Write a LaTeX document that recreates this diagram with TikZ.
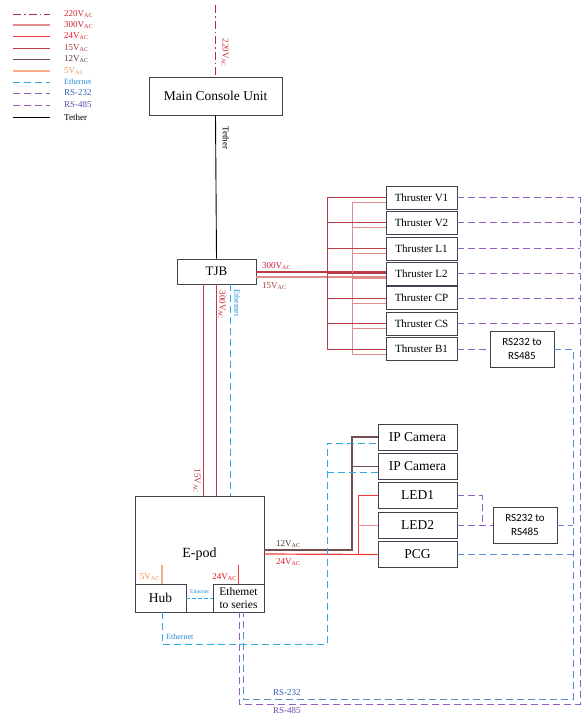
\documentclass[tikz,border=0pt]{standalone}
\usepackage{fontspec}
\setmainfont{Liberation Serif}
\newfontfamily\convfont{Carlito}
\usetikzlibrary{calc}
\definecolor{c220}{RGB}{170,50,65}
\definecolor{t220}{RGB}{200,40,55}
\definecolor{c300}{RGB}{222,140,140}
\definecolor{t300}{RGB}{200,30,55}
\definecolor{c24}{RGB}{240,60,60}
\definecolor{t24}{RGB}{230,25,35}
\definecolor{c15}{RGB}{185,60,70}
\definecolor{t15}{RGB}{170,55,55}
\definecolor{c12}{RGB}{115,80,80}
\definecolor{t12}{RGB}{80,55,55}
\definecolor{c5}{RGB}{245,175,140}
\definecolor{t5}{RGB}{240,145,90}
\definecolor{ceth}{RGB}{45,170,230}
\definecolor{teth}{RGB}{30,140,215}
\definecolor{c232}{RGB}{90,140,205}
\definecolor{t232}{RGB}{50,95,175}
\definecolor{c485}{RGB}{145,95,195}
\definecolor{t485}{RGB}{105,70,165}
\definecolor{boxc}{RGB}{65,65,80}
\newcommand\myvac{V\textsubscript{AC}}
\tikzset{
  box/.style={draw=boxc, line width=0.9pt, fill=white, inner sep=0pt, align=center, font=\fontsize{13.5}{15}\selectfont},
  thr/.style={box, minimum width=71pt, minimum height=23pt, font=\fontsize{11}{13}\selectfont},
  dev/.style={box, minimum width=79pt, minimum height=26pt},
  conv/.style={box, minimum width=64pt, minimum height=36pt, font=\convfont\fontsize{11}{13.5}\selectfont},
  lbl/.style={inner sep=0pt, font=\fontsize{9}{10}\selectfont},
  small/.style={inner sep=0pt, font=\fontsize{5.5}{6}\selectfont},
  dsh/.style={dash pattern=on 7pt off 4pt},
  w220/.style={c220, line width=0.9pt, dash pattern=on 8pt off 3pt on 1.5pt off 3pt},
  w300/.style={c300, line width=0.9pt},
  w24/.style={c24, line width=0.9pt},
  w15/.style={c15, line width=0.9pt},
  w12/.style={c12, line width=0.9pt},
  w5/.style={c5, line width=1.1pt},
  weth/.style={ceth, line width=1pt, dsh},
  w232/.style={c232, line width=1pt, dsh},
  w485/.style={c485, line width=1pt, dsh},
  wteth/.style={black, line width=0.9pt},
}
\begin{document}
\begin{tikzpicture}[x=1pt,y=-1pt]
\useasboundingbox (0,0) rectangle (588,720);

% ---------- legend ----------
\draw[w220] (13,14) -- (50,14);
\node[lbl, anchor=west, text=t220] (lg1) at (64,14) {220\myvac};
\draw[w300,line width=1.4pt] (13,25) -- (50,25);
\node[lbl, anchor=west, text=t300] (lg2) at (64,25) {300\myvac};
\draw[w24] (13,36) -- (50,36);
\node[lbl, anchor=west, text=t24] (lg3) at (64,36) {24\myvac};
\draw[w15] (13,48) -- (50,48);
\node[lbl, anchor=west, text=t15] (lg4) at (64,48) {15\myvac};
\draw[w12] (13,59) -- (50,59);
\node[lbl, anchor=west, text=t12] (lg5) at (64,59) {12\myvac};
\draw[w5] (13,71) -- (50,71);
\node[lbl, anchor=west, text=t5] (lg6) at (64,71) {5\myvac};
\draw[weth] (13,82) -- (50,82);
\node[lbl, anchor=west, text=teth, font=\fontsize{8}{9}\selectfont] (lg7) at (64,82) {Ethernet};
\draw[w485] (13,93) -- (50,93);
\node[lbl, anchor=west, text=t232] (lg8) at (64,93) {RS-232};
\draw[w485] (13,105) -- (50,105);
\node[lbl, anchor=west, text=t485] (lg9) at (64,105) {RS-485};
\draw[wteth] (13,117) -- (50,117);
\node[lbl, anchor=west] (lg10) at (64,117) {Tether};

% ---------- boxes ----------
\node[box, minimum width=133pt, minimum height=38pt] (mcu) at (215.5,96) {Main Console Unit};
\node[box, minimum width=79pt, minimum height=25pt, font=\fontsize{13}{15}\selectfont] (tjb) at (216.5,271.5) {TJB};

\foreach \n/\t/\y in {v1/V1/197.5, v2/V2/222.5, l1/L1/248.5, l2/L2/273.5, cp/CP/298, cs/CS/323.5, b1/B1/349}
  \node[thr] (\n) at (421.5,\y) {Thruster \t};

\node[conv] (cv1) at (522,349) {RS232 to\\RS485};

\node[dev] (cam1) at (417.5,437) {IP Camera};
\node[dev] (cam2) at (417.5,466) {IP Camera};
\node[dev] (led1) at (417.5,495.5) {LED1};
\node[dev] (led2) at (417.5,525) {LED2};
\node[dev] (pcg) at (417.5,554.5) {PCG};
\node[conv] (cv2) at (525,525) {RS232 to\\RS485};

\node[box, minimum width=129pt, minimum height=116pt, font=\fontsize{14}{16}\selectfont] (epod) at (199.5,554) {E-pod};
\node[box, minimum width=51pt, minimum height=28pt] (hub) at (160.5,598) {Hub};
\node[box, minimum width=51pt, minimum height=28pt, font=\fontsize{11.5}{12.5}\selectfont] (ets) at (238.5,598) {Ethemet\\to series};

% ---------- coordinates ----------
\coordinate (top) at (215.5,5);
\coordinate (bx1) at (327,0);
\coordinate (bx2) at (352,0);
\coordinate (ty1) at (0,272);
\coordinate (ty2) at (0,277);
\coordinate (vx15) at (203,0);
\coordinate (vx300) at (216,0);
\coordinate (vxeth) at (230,0);
\coordinate (y12) at (0,550);
\coordinate (y24) at (0,554);
\coordinate (x12) at (352,0);
\coordinate (x24) at (358,0);
\coordinate (xce) at (327,0);
\coordinate (ethy) at (0,644);
\coordinate (x232) at (573,0);
\coordinate (x485) at (580,0);
\coordinate (y232) at (0,699);
\coordinate (y485) at (0,704);
\coordinate (xled) at (482,0);

% ---------- top ----------
\draw[w220] (top) -- (mcu.north);
\node[lbl, rotate=-90, text=t220] (l220) at (225,53) {220\myvac};
\draw[wteth] (mcu.south) -- (tjb.north);
\node[lbl, rotate=-90] (lteth) at (226,138) {Tether};

% ---------- TJB to thrusters ----------
\draw[w15, line width=1.3pt] (tjb.east |- ty1) -- (l2.west |- ty1);
\draw[w300, line width=1.6pt] (tjb.east |- ty2) -- (l2.west |- ty2);
\node[lbl, anchor=south west, text=t300] (l300a) at (262,270) {300\myvac};
\node[lbl, anchor=north west, text=t15] (l15a) at (262,282) {15\myvac};
\draw[w15] (v1.west -| bx1) -- (b1.west -| bx1);
\draw[w300] ($(v1.west -| bx2)+(0,5)$) -- ($(b1.west -| bx2)+(0,5)$);
\foreach \n in {v1,v2,l1,l2,cp,cs,b1} {
  \draw[w15] (\n.west -| bx1) -- (\n.west);
  \draw[w300] ($(\n.west -| bx2)+(0,5)$) -- ($(\n.west)+(0,5)$);
}

% ---------- thrusters to RS-485 ----------
\draw[w485] (v1.east) -- (v1.east -| x485) -- (x485 |- y485) -- (y485 -| 239,0) -- (ets.south -| 239,0);
\foreach \n in {v2,l1,l2,cp,cs}
  \draw[w485] (\n.east) -- (\n.east -| x485);
\draw[w485] (b1.east) -- (cv1.west);

% ---------- RS-232 ----------
\draw[w232] (cv1.east) -- (cv1.east -| x232) -- (x232 |- y232) -- (y232 -| 243,0) -- (ets.south -| 243,0);
\draw[w232] (cv2.east) -- (cv2.east -| x232);
\draw[w232] (pcg.east) -- (pcg.east -| x232);
\draw[w485] (led1.east) -- (led1.east -| xled) -- (xled |- led2.east);
\draw[w485] (led2.east) -- (cv2.west);
\node[lbl, anchor=west, text=t232] (l232) at (273,693) {RS-232};
\node[lbl, anchor=west, text=t485] (l485) at (273,711) {RS-485};

% ---------- TJB to E-pod ----------
\draw[w15] (tjb.south -| vx15) -- (epod.north -| vx15);
\draw[w15] (tjb.south -| vx300) -- (epod.north -| vx300);
\draw[weth] (tjb.south -| vxeth) -- (epod.north -| vxeth);
\node[lbl, rotate=-90, text=t300] (l300b) at (222,305) {300\myvac};
\node[lbl, rotate=-90, text=teth, font=\fontsize{8}{9}\selectfont] (lethb) at (237,303) {Ethernet};
\node[lbl, rotate=-90, text=t15] (l15b) at (197,481) {15\myvac};

% ---------- E-pod internals ----------
\coordinate (i5) at (162,565);
\coordinate (i24) at (238,565);
\draw[w5] (i5) -- (hub.north -| i5);
\draw[w24] (i24) -- (ets.north -| i24);
\node[lbl, anchor=east, text=t5] (l5) at (160,577) {5\myvac};
\node[lbl, anchor=east, text=t24] (l24i) at (237,577) {24\myvac};
\draw[weth, dash pattern=on 4pt off 2pt] (hub.east) -- (ets.west);
\node[small, text=teth] (lethi) at (199.5,592) {Ethernet};

% ---------- E-pod to devices ----------
\draw[w12, line width=1.2pt] (epod.east |- y12) -- (x12 |- y12) -- (x12 |- cam1.west) -- (cam1.west);
\draw[w12] (x12 |- cam2.west) -- (cam2.west);
\node[lbl, anchor=south west, text=t12] (l12) at (276,548) {12\myvac};
\draw[w24, line width=1.2pt] (epod.east |- y24) -- (pcg.west);
\draw[w24] (x24 |- y24) -- (x24 |- led1.west) -- (led1.west);
\draw[w24, c24!60] (x24 |- led2.west) -- (led2.west);
\node[lbl, anchor=north west, text=t24] (l24) at (276,558) {24\myvac};

% ---------- Ethernet to cameras ----------
\draw[weth] (hub.south -| i5) -- (i5 |- ethy) -- (xce |- ethy) -- ($(xce |- cam1.west)+(0,6)$) -- ($(cam1.west)+(0,6)$);
\draw[weth] ($(xce |- cam2.west)+(0,6)$) -- ($(cam2.west)+(0,6)$);
\node[lbl, anchor=west, text=teth, font=\fontsize{8}{9}\selectfont] (leth) at (166,637) {Ethernet};

\end{tikzpicture}
\end{document}
